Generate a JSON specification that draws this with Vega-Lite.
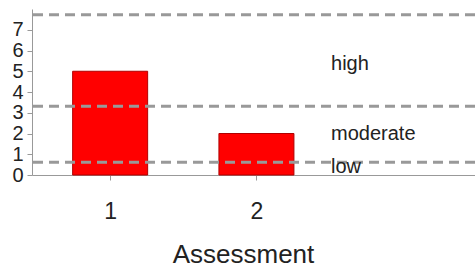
{
  "$schema": "https://vega.github.io/schema/vega-lite/v6.json",
  "width": 443,
  "height": 166,
  "autosize": "none",
  "padding": {"left": 32, "top": 9, "right": 0, "bottom": 92},
  "background": "white",
  "config": {
    "view": {"stroke": null},
    "font": "Liberation Sans",
    "axis": {"grid": false, "labelOverlap": false, "domainColor": "#999999", "tickColor": "#999999", "labelColor": "#222222", "titleColor": "#222222", "labelFont": "Liberation Sans", "titleFont": "Liberation Sans", "titleFontWeight": "normal"}
  },
  "datasets": {
    "bars": [
      {"assessment": 1, "value": 5},
      {"assessment": 2, "value": 2}
    ],
    "thresholds": [
      {"level": 7.72},
      {"level": 3.31},
      {"level": 0.62}
    ],
    "labels": [
      {"x": 2.51, "y": 5.07, "label": "high"},
      {"x": 2.51, "y": 1.67, "label": "moderate"},
      {"x": 2.51, "y": 0.1, "label": "low"}
    ]
  },
  "layer": [
    {
      "data": {"name": "bars"},
      "mark": {"type": "bar", "width": 75, "color": "#ff0000", "stroke": "#b00000", "strokeWidth": 1},
      "encoding": {
        "x": {"field": "assessment", "type": "quantitative", "scale": {"domain": [0.5, 3.46], "nice": false, "zero": false},
              "axis": {"values": [1, 2], "format": "d", "title": "Assessment", "labelFontSize": 23, "labelPadding": 20, "tickSize": 5, "titleFontSize": 26, "titleX": 211, "titleY": 87, "titleBaseline": "alphabetic", "labelFlush": false, "labelOverlap": false}},
        "y": {"field": "value", "type": "quantitative", "scale": {"domain": [0, 8], "nice": false},
              "axis": {"values": [0, 1, 2, 3, 4, 5, 6, 7], "format": "d", "title": null, "labelFontSize": 20, "labelPadding": 4, "tickSize": 5, "labelOverlap": false, "labelBaseline": "middle", "labelFlush": false, "labelBound": false}}
      }
    },
    {
      "data": {"name": "thresholds"},
      "mark": {"type": "rule", "color": "#999999", "strokeWidth": 3, "strokeDash": [10, 6]},
      "encoding": {"y": {"field": "level", "type": "quantitative",
              "axis": {"values": [0, 1, 2, 3, 4, 5, 6, 7], "format": "d", "title": null, "labelFontSize": 20, "labelPadding": 4, "tickSize": 5, "labelOverlap": false, "labelBaseline": "middle", "labelFlush": false, "labelBound": false}}}
    },
    {
      "data": {"name": "labels"},
      "mark": {"type": "text", "align": "left", "baseline": "alphabetic", "fontSize": 20, "color": "#222222"},
      "encoding": {
        "x": {"field": "x", "type": "quantitative",
              "axis": {"values": [1, 2], "format": "d", "title": "Assessment", "labelFontSize": 23, "labelPadding": 20, "tickSize": 5, "titleFontSize": 26, "titleX": 211, "titleY": 87, "titleBaseline": "alphabetic", "labelFlush": false, "labelOverlap": false}},
        "y": {"field": "y", "type": "quantitative",
              "axis": {"values": [0, 1, 2, 3, 4, 5, 6, 7], "format": "d", "title": null, "labelFontSize": 20, "labelPadding": 4, "tickSize": 5, "labelOverlap": false, "labelBaseline": "middle", "labelFlush": false, "labelBound": false}},
        "text": {"field": "label"}
      }
    }
  ]
}
